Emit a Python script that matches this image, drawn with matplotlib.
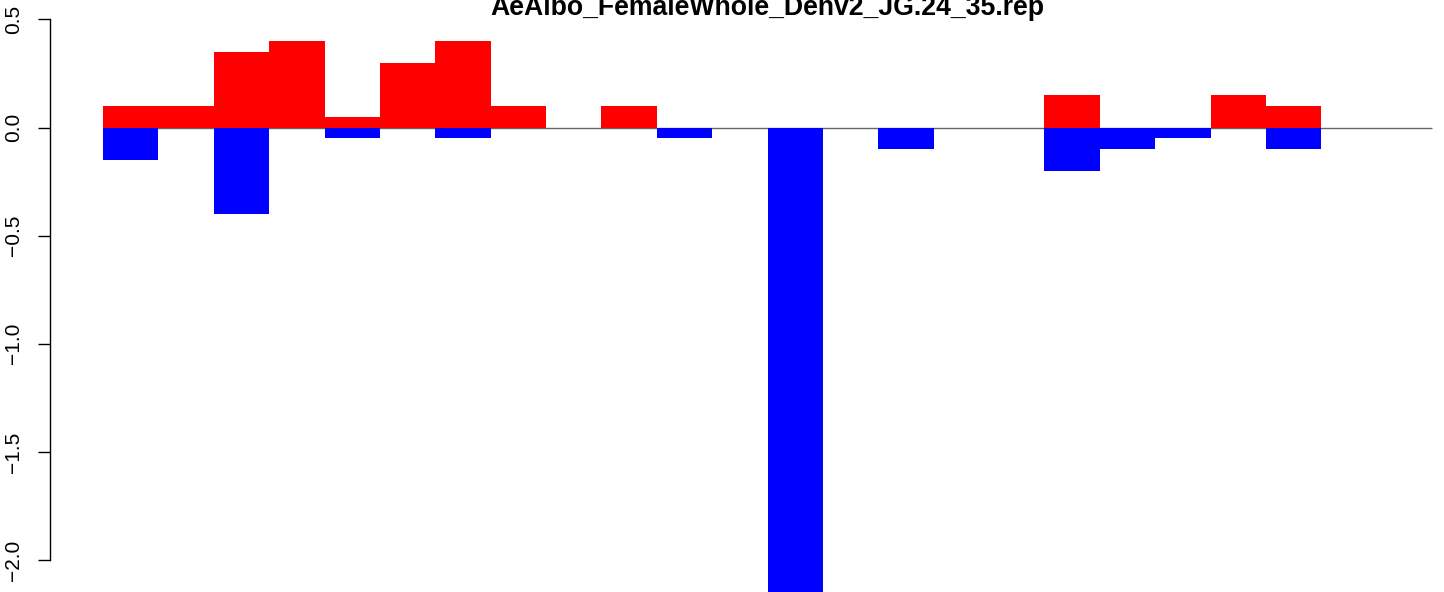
import numpy as np
import matplotlib.pyplot as plt

plt.rcParams['font.family'] = ['Liberation Sans', 'DejaVu Sans']

title = "AeAlbo_FemaleWhole_Denv2_JG.24_35.rep"
up = [0.1, 0.1, 0.35, 0.4, 0.05, 0.3, 0.4, 0.1, 0.0, 0.1, 0.0, 0.0,
      0.0, 0.0, 0.0, 0.0, 0.0, 0.15, 0.0, 0.0, 0.15, 0.1, 0.0, 0.0]
down = [-0.15, 0.0, -0.4, 0.0, -0.05, 0.0, -0.05, 0.0, 0.0, 0.0, -0.05, 0.0,
        -2.2, 0.0, -0.1, 0.0, 0.0, -0.2, -0.1, -0.05, 0.0, -0.1, 0.0, 0.0]
yticks = [-2.0, -1.5, -1.0, -0.5, 0.0, 0.5]

fig = plt.figure(figsize=(14.44, 5.92), dpi=100)
ax = fig.add_axes([0, 0, 1, 1])
ax.patch.set_alpha(0)

x = np.arange(len(up))
ax.hlines(0, 0, len(up), color='#666666', lw=1, zorder=1)
ax.bar(x, up, width=1, align='edge', color='#FF0000', lw=0, zorder=2)
ax.bar(x, down, width=1, align='edge', color='#0000FF', lw=0, zorder=2)

bw = 1329 / 24.0
ax.set_xlim(-103 / bw, (1444 - 103) / bw)
ax.set_ylim(-(592 - 127.5) / 216.3, 127.5 / 216.3)

for s in ['top', 'right', 'bottom']:
    ax.spines[s].set_visible(False)
ax.spines['left'].set_position(('data', (50 - 103) / bw))
ax.spines['left'].set_bounds(-2.0, 0.5)
ax.spines['left'].set_linewidth(1)
ax.set_xticks([])
ax.set_yticks(yticks)
ax.set_yticklabels([('%.1f' % v).replace('-', '\u2212') for v in yticks],
                   rotation=90, va='center')
ax.tick_params(axis='y', direction='out', length=8.6, width=1, pad=10.5, labelsize=15)

fig.text(767 / 1444, 1 - 15 / 592, title, ha='center', va='baseline',
         fontweight='bold', fontsize=19.2)

fig.savefig('out.png', dpi=100)
